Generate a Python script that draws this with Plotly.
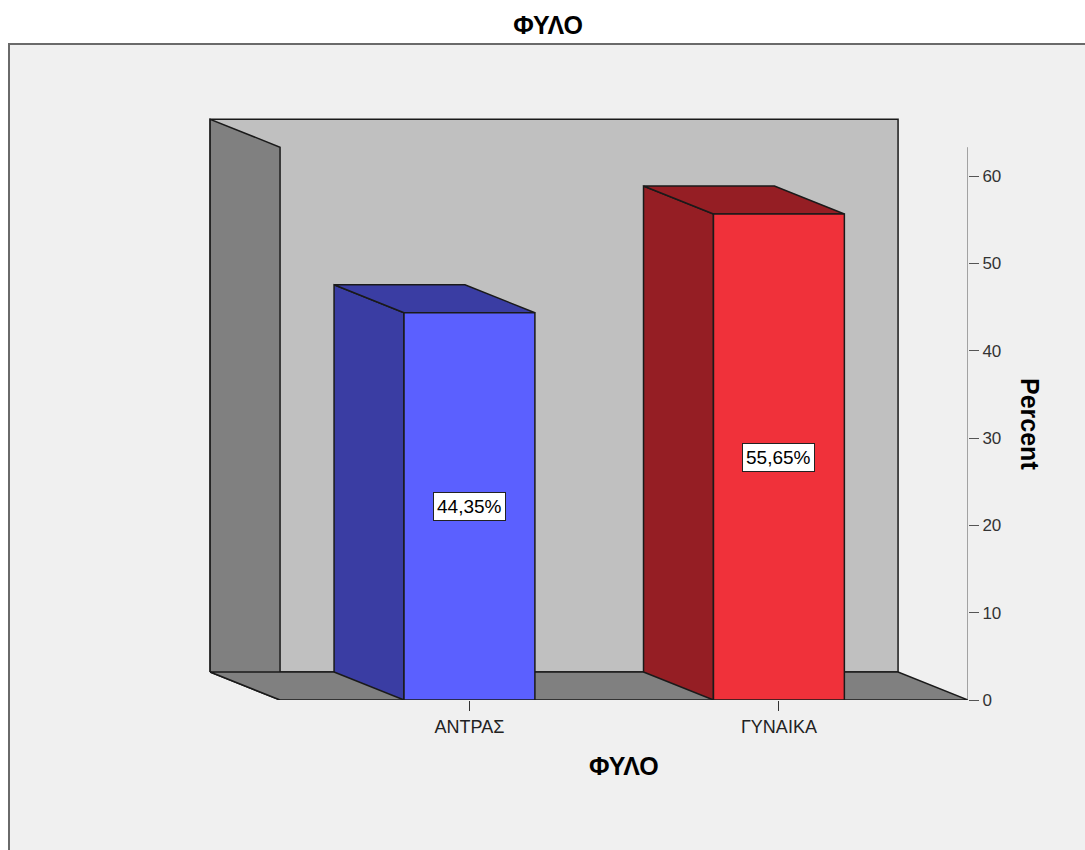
import plotly.graph_objects as go

# ---- data ----
categories = ["ΑΝΤΡΑΣ", "ΓΥΝΑΙΚΑ"]
percents = [44.35, 55.65]
y_ticks = [0, 10, 20, 30, 40, 50, 60]
chart_title = "ΦΥΛΟ"
x_title = "ΦΥΛΟ"
y_title = "Percent"

front_colors = ["#5b60ff", "#f0313a"]
dark_colors = ["#3a3da3", "#951e24"]

FONT = "Liberation Sans, Arial"

# ---- geometry (data units) ----
W = 0.423          # bar width
DX, DY = -0.226, 3.2   # depth offset of the 3D box
XF0, XF1 = -0.612, 1.611  # front plane x extent
YTOP = 63.3        # top of the value axis
XL = -0.903
YMAX = 67.56

W_PX, H_PX = 1085, 850
ML, MR, MT, MB = 190, 117, 110, 150

def px_x(p):
    return (p - ML) / (W_PX - ML - MR)

def px_y(p):
    return (H_PX - MB - p) / (H_PX - MT - MB)

fig = go.Figure()

def poly(xs, ys, fill, lw=1.5):
    fig.add_trace(go.Scatter(
        x=xs + [xs[0]], y=ys + [ys[0]], mode="lines", fill="toself",
        fillcolor=fill, line=dict(color="#1a1a1a", width=lw),
        hoverinfo="skip", showlegend=False))

# back wall
poly([XF0 + DX, XF1 + DX, XF1 + DX, XF0 + DX],
     [DY, DY, YTOP + DY, YTOP + DY], "#c0c0c0")
# left wall
poly([XF0 + DX, XF0 + DX, XF0, XF0],
     [DY, YTOP + DY, YTOP, 0], "#808080")
# floor
poly([XF0 + DX, XF1 + DX, XF1, XF0],
     [DY, DY, 0, 0], "#808080")

for i, (cat, v) in enumerate(zip(categories, percents)):
    c = i
    x0, x1 = c - W / 2, c + W / 2
    # side face
    poly([x0 + DX, x0 + DX, x0, x0], [DY, v + DY, v, 0], dark_colors[i])
    # top face
    poly([x0 + DX, x1 + DX, x1, x0], [v + DY, v + DY, v, v], dark_colors[i])
    # front face
    poly([x0, x1, x1, x0], [0, 0, v, v], front_colors[i])
    fig.add_annotation(x=c, y=v / 2, text=f"{v:.2f}".replace(".", ",") + "%",
                       showarrow=False, bgcolor="white", bordercolor="#222222",
                       borderwidth=1, borderpad=3,
                       font=dict(family=FONT, size=19, color="black"))

# grey background panel
fig.add_shape(type="rect", xref="paper", yref="paper",
              x0=px_x(9), x1=px_x(1100), y0=px_y(870), y1=px_y(44),
              fillcolor="#f0f0f0", line=dict(color="#6a6a6a", width=2), layer="below")
# value axis line
fig.add_shape(type="line", x0=XF1, x1=XF1, y0=0, y1=YTOP,
              line=dict(color="#555555", width=1))

# axis titles
fig.add_annotation(xref="paper", yref="paper", x=px_x(1030), y=px_y(424),
                   xanchor="center", yanchor="middle",
                   text=f"<b>{y_title}</b>", textangle=90, showarrow=False,
                   font=dict(family=FONT, size=25, color="black"))
fig.add_annotation(xref="paper", yref="paper", x=px_x(624), y=px_y(766),
                   xanchor="center", yanchor="middle",
                   text=f"<b>{x_title}</b>", showarrow=False,
                   font=dict(family=FONT, size=25, color="black"))

fig.update_layout(
    width=W_PX, height=H_PX,
    margin=dict(l=ML, r=MR, t=MT, b=MB, autoexpand=False),
    paper_bgcolor="white", plot_bgcolor="rgba(0,0,0,0)",
    title=dict(text=f"<b>{chart_title}</b>", x=548 / W_PX, xanchor="center",
               y=1 - 25 / H_PX, yanchor="middle",
               font=dict(family=FONT, size=25, color="black")),
    showlegend=False,
    xaxis=dict(range=[XL, XF1], tickvals=list(range(len(categories))), ticktext=categories,
               showgrid=False, zeroline=False, showline=False,
               ticks="outside", ticklen=10, tickcolor="#333333", tickwidth=1,
               tickfont=dict(family=FONT, size=18, color="#222222")),
    yaxis=dict(range=[0, YMAX], side="right", tickvals=y_ticks,
               showgrid=False, zeroline=False, showline=False,
               ticks="outside", ticklen=10, tickcolor="#555555", tickwidth=1,
               tickfont=dict(family=FONT, size=17, color="#333333")),
)

fig.write_html("out.html")
